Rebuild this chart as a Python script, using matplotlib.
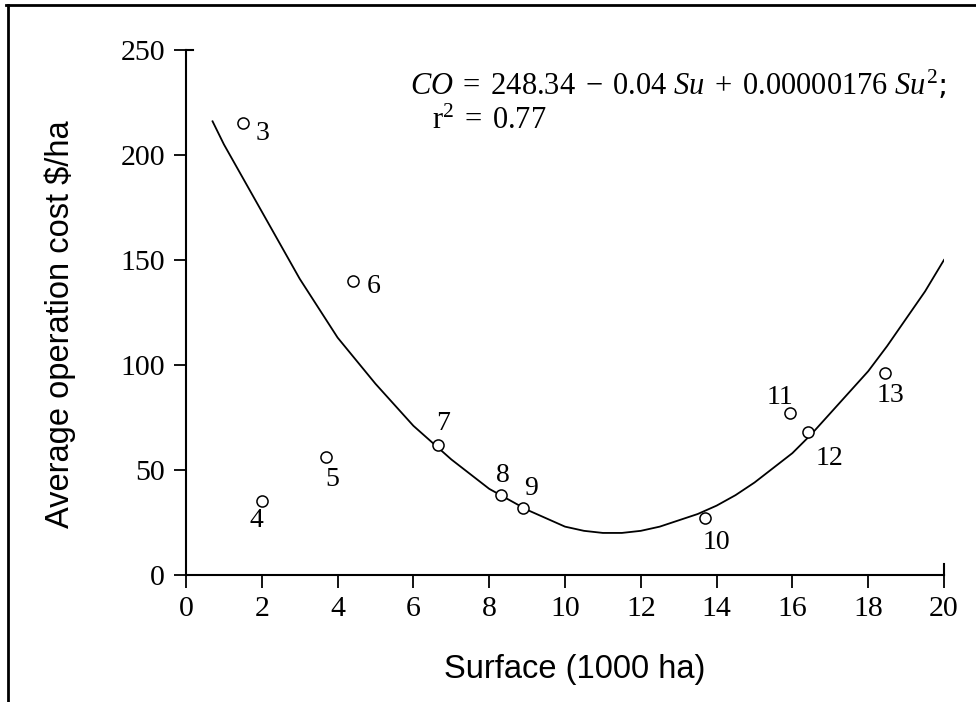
import matplotlib

matplotlib.use("Agg")
import matplotlib.pyplot as plt  # noqa: E402
from matplotlib.lines import Line2D  # noqa: E402

# observed districts: surface (1000 ha) vs average operation cost ($/ha)
point_ids = ["3", "4", "5", "6", "7", "8", "9", "10", "11", "12", "13"]
surface = [1.5, 2.0, 3.7, 4.4, 6.65, 8.3, 8.9, 13.7, 15.95, 16.4, 18.45]
cost = [215, 35, 56, 140, 62, 38, 32, 27, 77, 68, 96]

# fitted quadratic
fit_x = [0.7, 1, 1.5, 2, 2.5, 3, 3.5, 4, 4.5, 5, 5.5, 6, 6.5, 7, 7.5, 8, 8.5, 9,
         9.5, 10, 10.5, 11, 11.5, 12, 12.5, 13, 13.5, 14, 14.5, 15, 15.5, 16,
         16.5, 17, 17.5, 18, 18.5, 19, 19.5, 20]
fit_y = [216, 205, 189, 173, 157, 141, 127, 113, 102, 91, 81, 71, 63, 55, 48, 41,
         36, 31, 27, 23, 21, 20, 20, 21, 23, 26, 29, 33, 38, 44, 51, 58,
         67, 77, 87, 97, 109, 122, 135, 150]

x_ticks = [0, 2, 4, 6, 8, 10, 12, 14, 16, 18, 20]
y_ticks = [0, 50, 100, 150, 200, 250]

# label offsets in pixels (dx right, dy up) for each point id
label_offsets = [(20, -10), (-5, -19), (6, -22), (21, -6), (5, 21), (2, 20),
                 (8, 19), (11, -24), (-11, 16), (22, -26), (5, -22)]

plt.rcParams["mathtext.fontset"] = "custom"
plt.rcParams["mathtext.rm"] = "Liberation Serif"
plt.rcParams["mathtext.it"] = "Liberation Serif:italic"

SERIF = "Liberation Serif"
SANS = "Liberation Sans"

fig = plt.figure(figsize=(9.76, 7.02), dpi=100)
ax = fig.add_axes([0.1906, 0.181, 0.7766, 0.7479])

ax.plot(fit_x, fit_y, color="black", lw=1.3)
ax.plot(surface, cost, "o", ms=8, mfc="white", mec="black", mew=1.1, ls="none")
for pid, x, y, (dx, dy) in zip(point_ids, surface, cost, label_offsets):
    ax.annotate(pid, (x, y), xytext=(dx, dy), textcoords="offset pixels",
                ha="center", va="center", fontsize=20, family=SERIF)

ax.set_xlim(0, 20)
ax.set_ylim(0, 250)
ax.set_xticks(x_ticks)
ax.set_yticks(y_ticks)
ax.tick_params(direction="out", length=9, width=1.3, labelsize=21.5, pad=6)
for lab in ax.get_xticklabels() + ax.get_yticklabels():
    lab.set_family(SERIF)
for s in ["top", "right"]:
    ax.spines[s].set_visible(False)
for s in ["left", "bottom"]:
    ax.spines[s].set_linewidth(1.5)

# little end caps on the axes
ax.add_line(Line2D([0, 0.009], [1, 1], transform=ax.transAxes, color="black",
                   lw=1.5, clip_on=False))
ax.add_line(Line2D([1, 1], [0, 0.02], transform=ax.transAxes, color="black",
                   lw=1.5, clip_on=False))

ax.set_xlabel("Surface (1000 ha)", family=SANS, fontsize=23.5)
ax.xaxis.label.set_va("center")
ax.xaxis.set_label_coords(0.513, -0.18)
ax.set_ylabel("Average operation cost $/ha", family=SANS, fontsize=23.5)
ax.yaxis.label.set_va("center")
ax.yaxis.set_label_coords(-0.166, 0.478)

ax.text(0.2955, 0.934,
        r"$\mathit{CO}\;=\;248.34\;-\;0.04\ \mathit{Su}\;+\;0.00000176\ \mathit{Su}^2$;",
        transform=ax.transAxes, fontsize=22, va="center", ha="left")
ax.text(0.3245, 0.866, r"$\mathrm{r}^2\;=\;0.77$", transform=ax.transAxes,
        fontsize=22, va="center", ha="left")

# outer frame (top and left edges visible in the picture)
fig.add_artist(Line2D([0.006, 1.0], [0.993, 0.993], transform=fig.transFigure,
                      color="black", lw=2))
fig.add_artist(Line2D([0.008, 0.008], [0.0, 0.993], transform=fig.transFigure,
                      color="black", lw=2))

fig.savefig("out.png", dpi=100)
